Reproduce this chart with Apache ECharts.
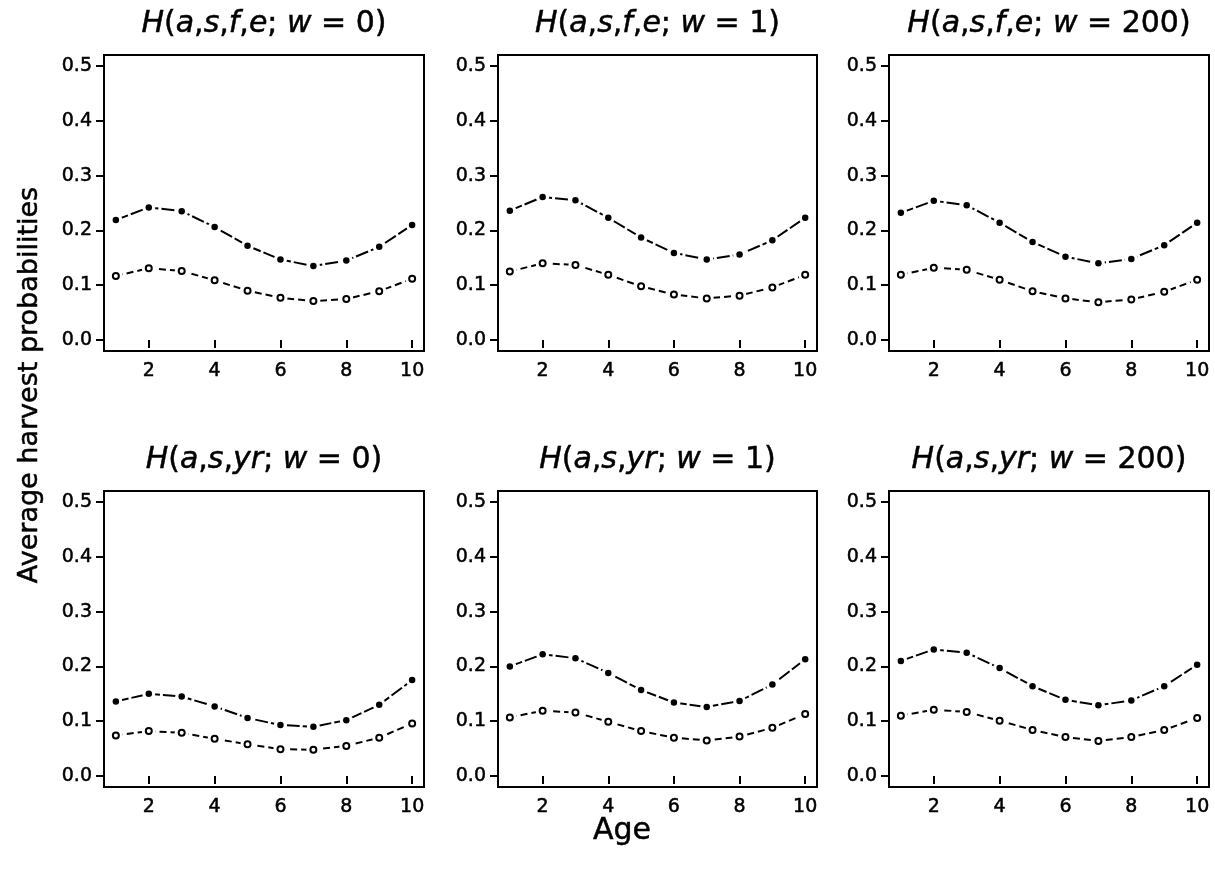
<!DOCTYPE html>
<html><head><meta charset="utf-8">
<script src="https://cdn.jsdelivr.net/npm/echarts@6/dist/echarts.min.js"></script>
<style>html,body{margin:0;padding:0;background:#fff}#c{width:1215px;height:878px}</style>
</head><body><div id="c"></div>
<script>
// ---- data ----
const ages = [1, 2, 3, 4, 5, 6, 7, 8, 9, 10];
const xTicks = [2, 4, 6, 8, 10];
const yTicks = [0, 0.1, 0.2, 0.3, 0.4, 0.5];
const xLabel = 'Age';
const yLabel = 'Average harvest probabilities';
const panelTitles = [
  '{i|H}({i|a},{i|s},{i|f},{i|e}; {i|w} = 0)',
  '{i|H}({i|a},{i|s},{i|f},{i|e}; {i|w} = 1)',
  '{i|H}({i|a},{i|s},{i|f},{i|e}; {i|w} = 200)',
  '{i|H}({i|a},{i|s},{i|yr}; {i|w} = 0)',
  '{i|H}({i|a},{i|s},{i|yr}; {i|w} = 1)',
  '{i|H}({i|a},{i|s},{i|yr}; {i|w} = 200)'
];
// filled points (long dash) and open points (dashed)
const fe_w0_filled   = [0.219, 0.242, 0.235, 0.206, 0.172, 0.147, 0.135, 0.145, 0.170, 0.210];
const fe_w0_open     = [0.117, 0.131, 0.126, 0.109, 0.090, 0.077, 0.071, 0.075, 0.089, 0.112];
const fe_w1_filled   = [0.236, 0.261, 0.255, 0.223, 0.187, 0.159, 0.147, 0.156, 0.182, 0.223];
const fe_w1_open     = [0.125, 0.140, 0.137, 0.119, 0.098, 0.083, 0.076, 0.081, 0.096, 0.119];
const fe_w200_filled = [0.232, 0.254, 0.246, 0.214, 0.179, 0.152, 0.140, 0.148, 0.173, 0.214];
const fe_w200_open   = [0.119, 0.132, 0.128, 0.110, 0.089, 0.076, 0.069, 0.074, 0.088, 0.110];
const yr_w0_filled   = [0.136, 0.150, 0.145, 0.127, 0.106, 0.093, 0.090, 0.102, 0.130, 0.175];
const yr_w0_open     = [0.074, 0.082, 0.079, 0.068, 0.058, 0.049, 0.048, 0.055, 0.070, 0.096];
const yr_w1_filled   = [0.200, 0.222, 0.215, 0.188, 0.157, 0.134, 0.126, 0.137, 0.167, 0.213];
const yr_w1_open     = [0.107, 0.119, 0.116, 0.099, 0.082, 0.070, 0.065, 0.072, 0.088, 0.113];
const yr_w200_filled = [0.210, 0.231, 0.225, 0.197, 0.164, 0.139, 0.129, 0.138, 0.164, 0.203];
const yr_w200_open   = [0.110, 0.121, 0.117, 0.101, 0.084, 0.071, 0.064, 0.071, 0.084, 0.106];

const panelFilled = [fe_w0_filled, fe_w1_filled, fe_w200_filled, yr_w0_filled, yr_w1_filled, yr_w200_filled];
const panelOpen   = [fe_w0_open, fe_w1_open, fe_w200_open, yr_w0_open, yr_w1_open, yr_w200_open];

// ---- layout ----
const colLeft = [104, 498, 889];
const colWidth = [320, 319, 320];
const rowTop = [55, 491];
const rowHeight = 296;
const FONT = 'DejaVu Sans';
const TB = {textBorderColor: '#000', textBorderWidth: 0.5};

const grids = [], xAxes = [], yAxes = [], series = [], titles = [];
for (let p = 0; p < 6; p++) {
  const r = Math.floor(p / 3), c = p % 3;
  grids.push({left: colLeft[c], top: rowTop[r], width: colWidth[c], height: rowHeight,
    show: true, borderColor: '#000', borderWidth: 2, backgroundColor: 'transparent', containLabel: false});
  xAxes.push({gridIndex: p, type: 'value', min: 0.64, max: 10.36,
    axisLine: {show: false}, splitLine: {show: false},
    axisTick: {show: true, customValues: xTicks, length: 8, lineStyle: {color: '#000', width: 2}},
    axisLabel: Object.assign({customValues: xTicks, margin: 11, fontSize: 19, color: '#000', fontFamily: FONT}, TB)});
  yAxes.push({gridIndex: p, type: 'value', min: -0.02, max: 0.52,
    axisLine: {show: false}, splitLine: {show: false},
    axisTick: {show: true, customValues: yTicks, length: 8, lineStyle: {color: '#000', width: 2}},
    axisLabel: Object.assign({customValues: yTicks, margin: 12, fontSize: 19, color: '#000', fontFamily: FONT,
      formatter: v => v.toFixed(1)}, TB)});
  titles.push({text: panelTitles[p], left: colLeft[c] + colWidth[c] / 2, textAlign: 'center',
    top: rowTop[r] - 47, padding: 0,
    textStyle: Object.assign({fontSize: 30, fontFamily: FONT, color: '#000', fontWeight: 'normal', lineHeight: 32,
      rich: {i: Object.assign({fontSize: 30, fontFamily: FONT, fontStyle: 'italic', color: '#000', lineHeight: 32}, TB)}}, TB)});
  const sets = [
    {vals: panelFilled[p], dash: [13, 3], sym: 6.5, halo: 13, fill: '#000', border: 0},
    {vals: panelOpen[p], dash: [7, 4], sym: 6, halo: 14, fill: '#fff', border: 2}
  ];
  sets.forEach(s => {
    const d = ages.map((a, i) => [a, s.vals[i]]);
    series.push({type: 'line', xAxisIndex: p, yAxisIndex: p, data: d, showSymbol: false, symbol: 'none',
      z: 2, silent: true, lineStyle: {color: '#000', width: 2, type: s.dash}});
    series.push({type: 'line', xAxisIndex: p, yAxisIndex: p, data: d, symbol: 'circle', symbolSize: s.halo,
      z: 3, silent: true, lineStyle: {opacity: 0, width: 0}, itemStyle: {color: '#fff', borderWidth: 0}});
    series.push({type: 'line', xAxisIndex: p, yAxisIndex: p, data: d, symbol: 'circle', symbolSize: s.sym,
      z: 4, silent: true, lineStyle: {opacity: 0, width: 0},
      itemStyle: {color: s.fill, borderColor: '#000', borderWidth: s.border}});
  });
}

const chart = echarts.init(document.getElementById('c'), null, {renderer: 'canvas'});
chart.setOption({
  animation: false,
  backgroundColor: '#fff',
  title: titles,
  grid: grids, xAxis: xAxes, yAxis: yAxes, series: series,
  graphic: [
    {type: 'text', x: 622, y: 831,
      style: Object.assign({text: xLabel, fontSize: 30, fontFamily: FONT, fill: '#000', align: 'center', verticalAlign: 'middle',
        stroke: '#000', lineWidth: 0.5})},
    {type: 'text', x: 16, y: 385, rotation: Math.PI / 2,
      style: {text: yLabel, fontSize: 27, fontFamily: FONT, fill: '#000', align: 'center', verticalAlign: 'top',
        stroke: '#000', lineWidth: 0.5}}
  ]
});
</script></body></html>
